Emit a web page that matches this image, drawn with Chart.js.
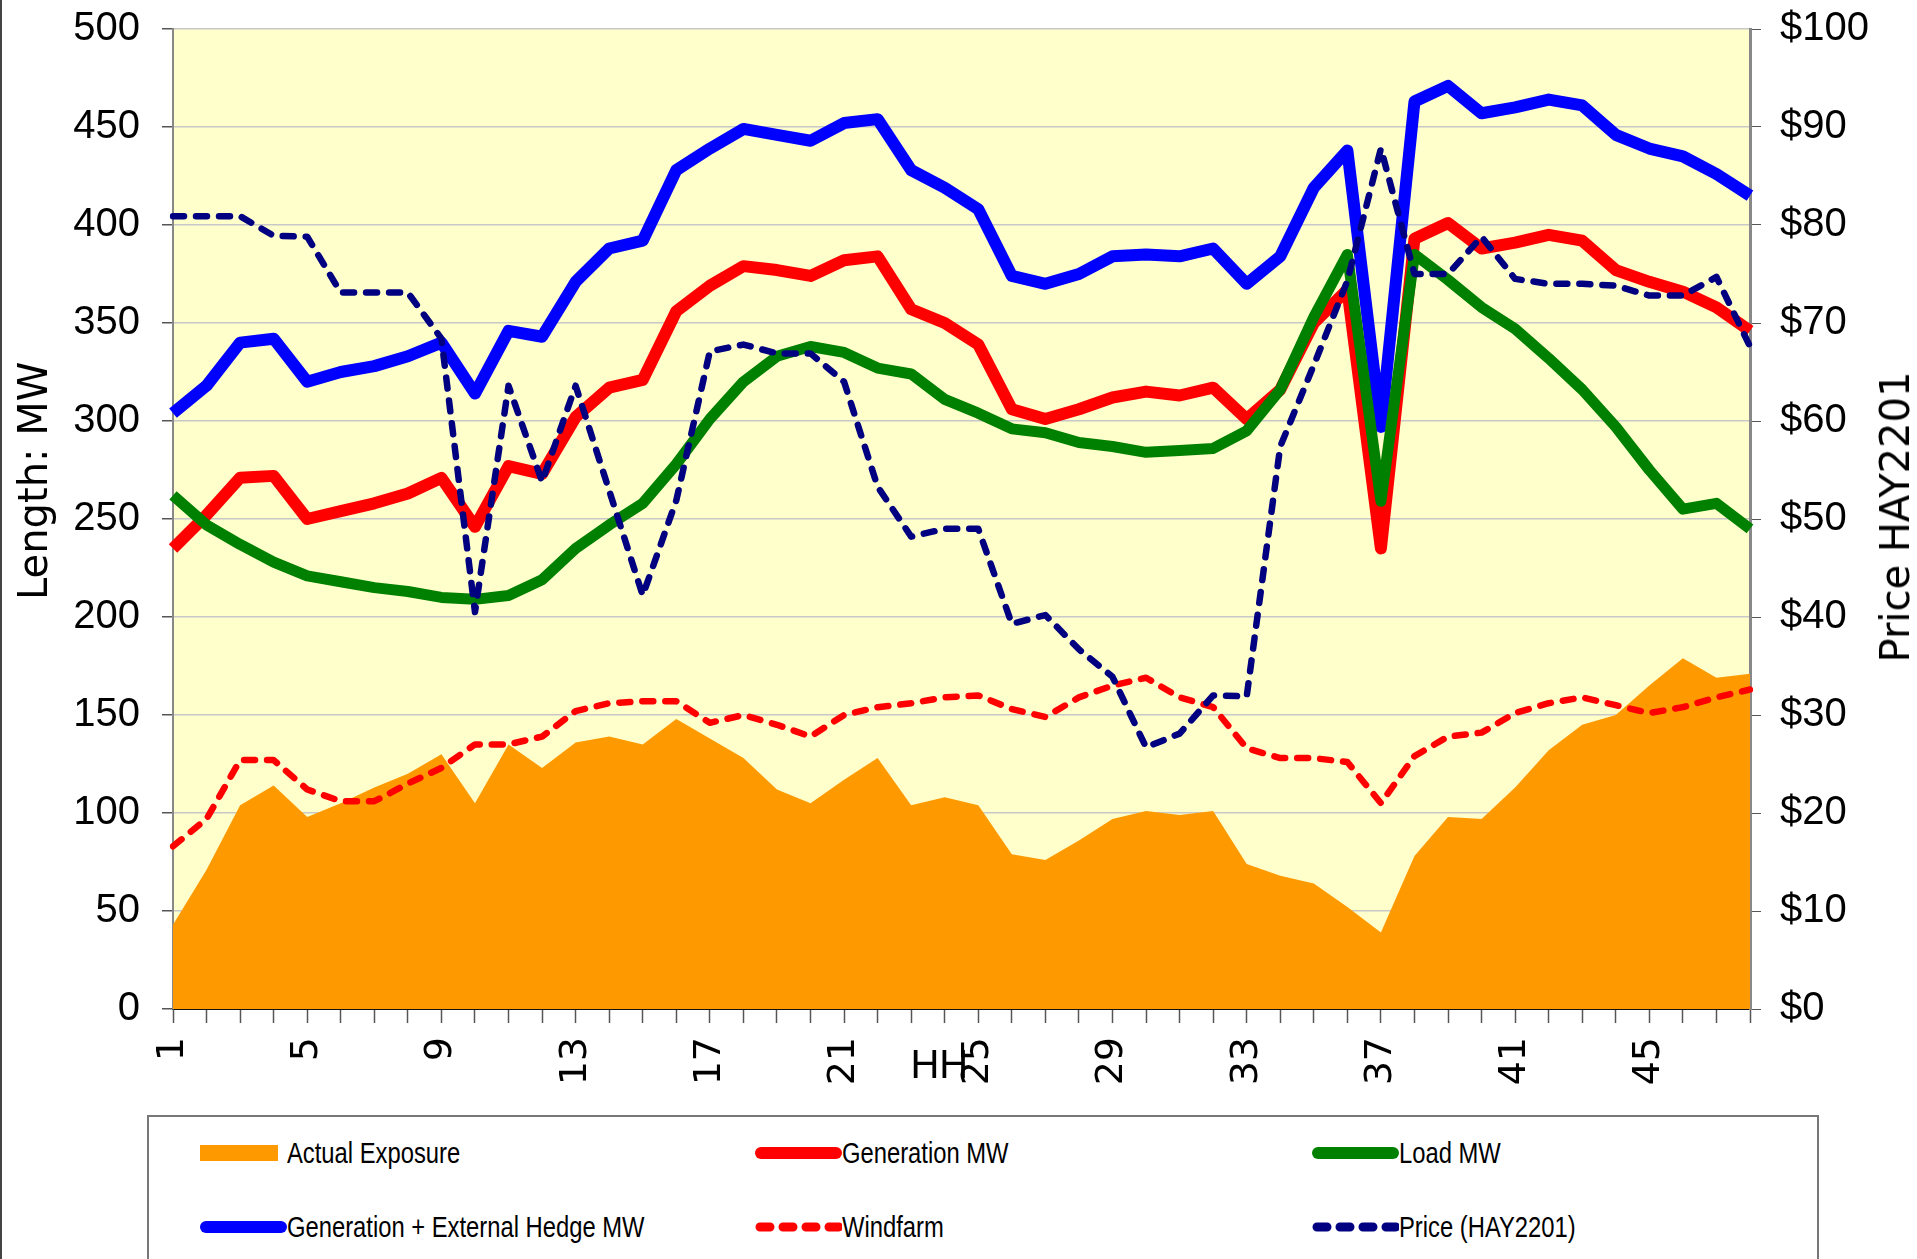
<!DOCTYPE html>
<html>
<head>
<meta charset="utf-8">
<title>Exposure by half hour</title>
<script src="https://cdn.jsdelivr.net/npm/chart.js@4.4.1/dist/chart.umd.min.js"></script>
<style>
  html, body { margin: 0; padding: 0; background: #fff; }
  body { width: 1917px; height: 1259px; position: relative; overflow: hidden; }
  #edge { position: absolute; left: 0; top: 0; width: 2px; height: 1259px; background: #444; }
  #wrap { position: absolute; left: 0; top: 0; }
  #priceTitle {
    position: absolute; left: 1895px; top: 517px;
    transform: translate(-50%, -50%) rotate(-90deg);
    font: 40px "DejaVu Sans", sans-serif; color: #000; white-space: nowrap;
  }
  #legend {
    position: absolute; left: 147px; top: 1115px; width: 1672px; height: 200px;
    border: 2px solid #777; box-sizing: border-box; background: #fff;
  }
  .item {
    position: absolute; display: flex; align-items: center; height: 40px;
    font: 29px "Liberation Sans", Arial, sans-serif;
    color: #000; white-space: nowrap;
  }
  .item svg { width: 87px; height: 20px; display: block; flex: none; }
  /* the original uses a narrow face */
  .item span { display: inline-block; transform: scaleX(0.82); transform-origin: left center; }
</style>
</head>
<body>
<div id="wrap"><canvas id="exposureChart" width="1917" height="1100"></canvas></div>
<div id="edge"></div>
<div id="priceTitle">Price HAY2201</div>
<div id="legend"></div>
<script>
// Half hour periods
const halfHours = ["1", "2", "3", "4", "5", "6", "7", "8", "9", "10", "11", "12",
  "13", "14", "15", "16", "17", "18", "19", "20", "21", "22", "23", "24",
  "25", "26", "27", "28", "29", "30", "31", "32", "33", "34", "35", "36",
  "37", "38", "39", "40", "41", "42", "43", "44", "45", "46", "47", "48"];
const shownHH = ["1", "5", "9", "13", "17", "21", "25", "29", "33", "37", "41", "45"];

// MW series (left axis)
const actualExposure = [43, 71, 104, 114, 98, 105, 113, 120, 130, 105, 135, 123,
  136, 139, 135, 148, 138, 128, 112, 105, 117, 128, 104, 108,
  104, 79, 76, 86, 97, 101, 99, 101, 74, 68, 64, 52,
  39, 78, 98, 97, 113, 132, 145, 150, 165, 179, 169, 171];
const generationMW = [235, 252, 271, 272, 250, 254, 258, 263, 271, 246, 277, 273,
  302, 317, 321, 356, 369, 379, 377, 374, 382, 384, 357, 350,
  339, 306, 301, 306, 312, 315, 313, 317, 301, 316, 350, 367,
  235, 393, 401, 388, 391, 395, 392, 377, 371, 366, 358, 346];
const loadMW = [262, 247, 237, 228, 221, 218, 215, 213, 210, 209, 211, 219,
  235, 247, 258, 278, 301, 320, 333, 338, 335, 327, 324, 311,
  304, 296, 294, 289, 287, 284, 285, 286, 295, 316, 353, 385,
  259, 385, 372, 358, 347, 332, 316, 297, 275, 255, 258, 245];
const hedgeMW = [304, 318, 340, 342, 320, 325, 328, 333, 340, 314, 346, 343,
  371, 388, 392, 428, 439, 449, 446, 443, 452, 454, 428, 419,
  408, 374, 370, 375, 384, 385, 384, 388, 370, 384, 419, 438,
  297, 463, 471, 457, 460, 464, 461, 446, 439, 435, 426, 415];
const windfarmMW = [83, 97, 127, 127, 112, 106, 106, 115, 123, 135, 135, 139,
  152, 156, 157, 157, 146, 150, 145, 139, 150, 154, 156, 159,
  160, 153, 149, 159, 165, 169, 159, 154, 133, 128, 128, 126,
  105, 129, 139, 141, 151, 156, 159, 155, 151, 154, 159, 163];

// Price in $ (right axis)
const priceHAY2201 = [80.9, 80.9, 80.9, 78.9, 78.8, 73.1, 73.1, 73.1, 68.4, 40.5, 63.6, 53.8,
  63.6, 52.9, 42.2, 51.9, 67.1, 67.8, 66.9, 66.9, 64.0, 53.3, 48.2, 49.0,
  49.0, 39.3, 40.2, 36.7, 33.9, 26.7, 28.1, 32.0, 31.9, 57.4, 65.7, 74.3,
  87.8, 75.0, 75.0, 78.8, 74.5, 74.0, 74.0, 73.8, 72.8, 72.8, 74.7, 67.6];

const tickFont = "'Liberation Sans', Arial, sans-serif";
const wideFont = "'DejaVu Sans', sans-serif";

// Pale yellow plot area
const plotBackground = {
  id: "plotBackground",
  beforeDraw(chart) {
    const { ctx, chartArea: a } = chart;
    ctx.save();
    ctx.fillStyle = "#FFFFCC";
    ctx.fillRect(a.left, a.top, a.right - a.left, a.bottom - a.top);
    ctx.restore();
  }
};

function lineSet(label, data, color, width, dash, axis, order) {
  return {
    label: label,
    data: data,
    yAxisID: axis,
    borderColor: color,
    backgroundColor: color,
    borderWidth: width,
    borderDash: dash,
    borderCapStyle: dash.length ? "round" : "butt",
    borderJoinStyle: "round",
    pointRadius: 0,
    tension: 0,
    fill: false,
    order: order
  };
}

// fixed axis widths, no extra room above the plot for the tick labels
function fitY(width) {
  return (s) => {
    s.width = width;
    s.paddingTop = 0;
    s.paddingBottom = 0;
  };
}

const ctx = document.getElementById("exposureChart").getContext("2d");

const chart = new Chart(ctx, {
  type: "line",
  data: {
    labels: halfHours,
    datasets: [
      {
        label: "Actual Exposure",
        data: actualExposure,
        yAxisID: "y",
        borderColor: "#FF9900",
        backgroundColor: "#FF9900",
        borderWidth: 0,
        pointRadius: 0,
        tension: 0,
        fill: "origin",
        order: 5
      },
      lineSet("Generation MW", generationMW, "#FF0000", 12, [], "y", 3),
      lineSet("Load MW", loadMW, "#008000", 11, [], "y", 2),
      lineSet("Generation + External Hedge MW", hedgeMW, "#0000FF", 12, [], "y", 4),
      lineSet("Windfarm", windfarmMW, "#FF0000", 6.5, [11, 12], "y", 1),
      lineSet("Price (HAY2201)", priceHAY2201, "#000080", 6.5, [11, 12], "y1", 0)
    ]
  },
  options: {
    responsive: false,
    devicePixelRatio: 1,
    animation: false,
    layout: { padding: { top: 29, left: 0, right: 0, bottom: 0 } },
    plugins: {
      legend: { display: false },
      tooltip: { enabled: false }
    },
    scales: {
      x: {
        type: "category",
        offset: false,
        grid: { drawOnChartArea: false, drawTicks: true, tickLength: 14, tickColor: "#555", tickWidth: 1.5 },
        border: { display: true, color: "#111", width: 2 },
        ticks: {
          autoSkip: false,
          minRotation: 90,
          maxRotation: 90,
          padding: 14,
          color: "#000",
          font: { family: wideFont, size: 38 },
          callback: (v, i) => (shownHH.includes(halfHours[i]) ? halfHours[i] : "")
        },
        title: {
          display: true,
          text: "HH    ",
          color: "#000",
          font: { family: tickFont, size: 40 },
          padding: { top: 0, bottom: 9 }
        },
        afterFit: (s) => { s.height = 91; }
      },
      y: {
        position: "left",
        min: 0,
        max: 500,
        ticks: { stepSize: 50, padding: 22, color: "#000", font: { family: tickFont, size: 40 } },
        grid: { color: "#c8c8c8", lineWidth: 1.5, tickLength: 11, tickColor: "#555" },
        border: { color: "#888", width: 2 },
        title: {
          display: true,
          text: "      Length: MW",
          color: "#000",
          font: { family: wideFont, size: 40 },
          padding: { top: 13, bottom: 0 }
        },
        afterFit: fitY(173)
      },
      y1: {
        position: "right",
        min: 0,
        max: 100,
        ticks: {
          stepSize: 10,
          padding: 19,
          color: "#000",
          font: { family: tickFont, size: 40 },
          callback: (v) => "$" + v
        },
        grid: { drawOnChartArea: false, tickLength: 11, tickColor: "#555" },
        border: { color: "#888", width: 3 },
        afterFit: fitY(167)
      }
    }
  },
  plugins: [plotBackground]
});

// Legend laid out as a 3 x 2 grid under the chart
const legendSlots = [[51, 16], [606, 16], [1163, 16], [51, 90], [606, 90], [1163, 90]];
const legendBox = document.getElementById("legend");
chart.data.datasets.forEach((ds, i) => {
  const item = document.createElement("div");
  item.className = "item";
  item.style.left = legendSlots[i][0] + "px";
  item.style.top = legendSlots[i][1] + "px";
  let mark;
  if (ds.fill === "origin") {
    mark = `<rect x="0" y="2" width="78" height="16" fill="${ds.backgroundColor}"/>`;
  } else if (ds.borderDash.length) {
    mark = `<line x1="5" y1="10" x2="84" y2="10" stroke="${ds.borderColor}" stroke-width="9" stroke-linecap="round" stroke-dasharray="10 13"/>`;
  } else {
    mark = `<line x1="6" y1="10" x2="81" y2="10" stroke="${ds.borderColor}" stroke-width="12" stroke-linecap="round"/>`;
  }
  item.innerHTML = `<svg viewBox="0 0 87 20">${mark}</svg><span>${ds.label}</span>`;
  legendBox.appendChild(item);
});
</script>
</body>
</html>
